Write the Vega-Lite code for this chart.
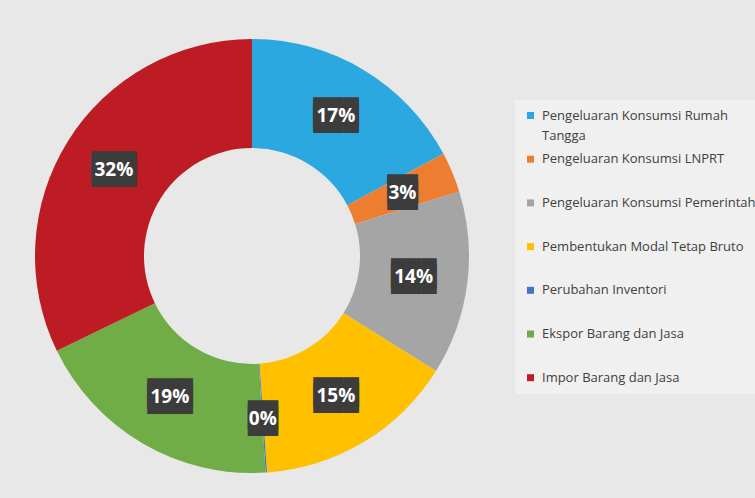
{
  "$schema": "https://vega.github.io/schema/vega-lite/v6.json",
  "width": 504,
  "height": 484,
  "autosize": {"type": "none"},
  "padding": {"left": 0, "top": 14, "right": 251, "bottom": 0},
  "background": "#e8e8e8",
  "config": {"view": {"stroke": null}, "style": {"guide-label": {"lineHeight": 20}}},
  "data": {
    "values": [
      {"k": 1, "komponen": "Pengeluaran Konsumsi Rumah Tangga", "share": 17.2},
      {"k": 2, "komponen": "Pengeluaran Konsumsi LNPRT", "share": 3.0},
      {"k": 3, "komponen": "Pengeluaran Konsumsi Pemerintah", "share": 13.7},
      {"k": 4, "komponen": "Pembentukan Modal Tetap Bruto", "share": 15.0},
      {"k": 5, "komponen": "Perubahan Inventori", "share": 0.1},
      {"k": 6, "komponen": "Ekspor Barang dan Jasa", "share": 18.8},
      {"k": 7, "komponen": "Impor Barang dan Jasa", "share": 32.2}
    ]
  },
  "transform": [
    {"calculate": "format(datum.share / 100, '.0%')", "as": "label"},
    {"calculate": "pad('', length(datum.label), '█')", "as": "box"}
  ],
  "layer": [
    {
      "mark": {"type": "arc", "outerRadius": 217, "innerRadius": 108},
      "encoding": {
        "theta": {"field": "share", "type": "quantitative", "stack": true},
        "order": {"field": "k", "type": "quantitative"},
        "color": {
          "field": "komponen",
          "type": "nominal",
          "scale": {
            "domain": ["Pengeluaran Konsumsi Rumah Tangga", "Pengeluaran Konsumsi LNPRT", "Pengeluaran Konsumsi Pemerintah", "Pembentukan Modal Tetap Bruto", "Perubahan Inventori", "Ekspor Barang dan Jasa", "Impor Barang dan Jasa"],
            "range": ["#2ba8e0", "#ed7d31", "#a5a5a5", "#ffc000", "#4472c4", "#70ad47", "#be1c24"]
          },
          "legend": {
            "title": null,
            "orient": "none",
            "legendX": 515,
            "legendY": 86,
            "gridAlign": "all",
            "labelFont": "Open Sans",
            "labelFontSize": 13,
            "labelColor": "#404040",
            "symbolType": "square",
            "symbolSize": 49,
            "symbolStrokeWidth": 0,
            "rowPadding": 9.7,
            "fillColor": "#f0f0f0",
            "padding": 9,
            "labelLimit": 300,
            "labelOffset": 5,
            "labelExpr": "datum.label == 'Pengeluaran Konsumsi Rumah Tangga' ? ['Pengeluaran Konsumsi Rumah', 'Tangga'] : datum.label"
          }
        }
      }
    },
    {
      "mark": {"type": "text", "radius": 163, "font": "DejaVu Sans Mono", "fontSize": 25, "dy": -3, "color": "#3c3c3c", "baseline": "middle", "align": "center"},
      "encoding": {
        "theta": {"field": "share", "type": "quantitative", "stack": true},
        "order": {"field": "k", "type": "quantitative"},
        "text": {"field": "box", "type": "nominal"}
      }
    },
    {
      "mark": {"type": "text", "radius": 163, "font": "DejaVu Sans Mono", "fontSize": 25, "dy": 3, "color": "#3c3c3c", "baseline": "middle", "align": "center"},
      "encoding": {
        "theta": {"field": "share", "type": "quantitative", "stack": true},
        "order": {"field": "k", "type": "quantitative"},
        "text": {"field": "box", "type": "nominal"}
      }
    },
    {
      "mark": {"type": "text", "radius": 163, "font": "Open Sans", "fontSize": 19, "fontWeight": "bold", "color": "white", "baseline": "middle", "align": "center"},
      "encoding": {
        "theta": {"field": "share", "type": "quantitative", "stack": true},
        "order": {"field": "k", "type": "quantitative"},
        "text": {"field": "label", "type": "nominal"}
      }
    }
  ]
}
